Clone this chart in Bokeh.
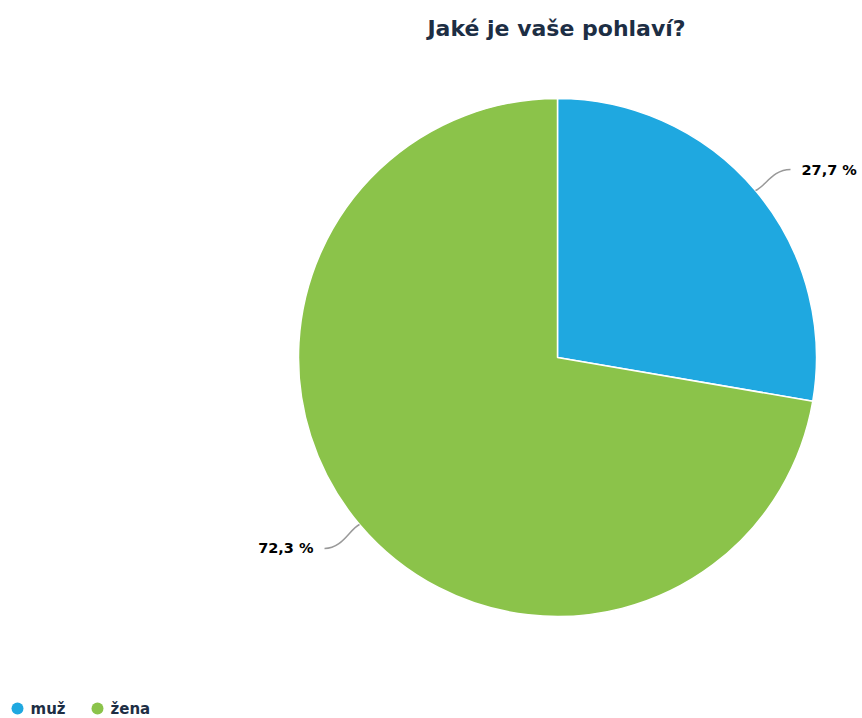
import math
from bokeh.plotting import figure
from bokeh.models import Range1d, ColumnDataSource
from bokeh.core.properties import value
from bokeh.embed import file_html
from bokeh.resources import INLINE

title = "Jaké je vaše pohlaví?"
categories = ["muž", "žena"]
shares = [27.7, 72.3]
labels = ["27,7 %", "72,3 %"]
colors = ["#1FA8E0", "#8BC34A"]

W, H = 862, 718
p = figure(width=W, height=H, output_backend="svg", toolbar_location=None,
           x_range=Range1d(0, W), y_range=Range1d(0, H), min_border=0)
p.axis.visible = False
p.grid.visible = False
p.outline_line_color = None
p.background_fill_color = "white"
p.border_fill_color = "white"

cx, cy, r = 557, H - 357, 259
total = sum(shares)
starts, ends, mids = [], [], []
acc = 0.0
for s in shares:
    a0 = math.pi / 2 - 2 * math.pi * acc / total
    acc += s
    a1 = math.pi / 2 - 2 * math.pi * acc / total
    starts.append(a1)
    ends.append(a0)
    mids.append((a0 + a1) / 2)

src = ColumnDataSource(dict(start=starts, end=ends, color=colors))
p.wedge(x=cx, y=cy, radius=r, start_angle="start", end_angle="end",
        fill_color="color", line_color="white", line_width=1.5, source=src)

# connectors and labels
for i, m in enumerate(mids):
    ex, ey = cx + r * math.cos(m), cy + r * math.sin(m)
    side = 1 if math.cos(m) >= 0 else -1
    tx, ty = ex + side * 35, ey + 21 if math.sin(m) > 0 else ey - 24
    p.bezier(x0=[ex], y0=[ey], x1=[tx], y1=[ty],
             cx0=[ex + side * 10], cy0=[ey + (ty - ey) * 0.2],
             cx1=[tx - side * 18], cy1=[ty],
             line_color="#999999", line_width=1.5)
    p.text(x=[tx + side * 11], y=[ty], text=[labels[i]],
           text_align="left" if side > 0 else "right", text_baseline="middle",
           text_font=value("DejaVu Sans"), text_font_style="bold",
           text_font_size="14.5px", text_color="#000000")

# title
p.text(x=[556], y=[H - 28], text=[title], text_align="center", text_baseline="middle",
       text_font=value("DejaVu Sans"), text_font_style="bold", text_font_size="22px",
       text_color="#1D2E44")

# legend
lx = [17, 97]
p.scatter(x=lx, y=[H - 708] * 2, size=12, marker="circle", fill_color=colors, line_color=None)
p.text(x=[x + 13 for x in lx], y=[H - 708] * 2, text=categories, text_baseline="middle",
       text_font=value("DejaVu Sans"), text_font_style="bold", text_font_size="15px",
       text_color="#1D2E44")

open("out.html", "w").write(file_html(p, INLINE))
